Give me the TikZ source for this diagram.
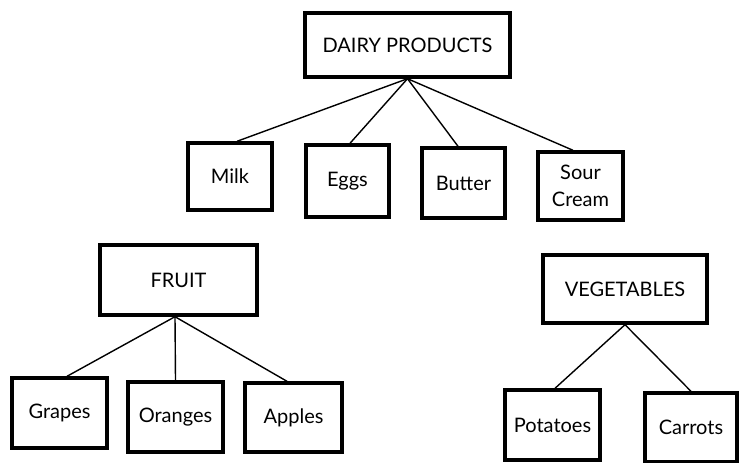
\documentclass[tikz,border=0pt]{standalone}
\usepackage{fontspec}
\setmainfont{Lato}
\begin{document}
\begin{tikzpicture}[x=1pt,y=-1pt,
  box/.style={draw=black,line width=3.4pt,fill=white,inner sep=0pt,align=center,
    font=\fontsize{20}{27}\selectfont,text=black},
  link/.style={draw=black,line width=1.4pt}]
\useasboundingbox (0,0) rectangle (739,463);
\fill[white] (0,0) rectangle (739,463);
% nodes
\node[box,minimum width=205pt,minimum height=64pt] (dairy) at (407.5,45) {DAIRY PRODUCTS};
\node[box,minimum width=84pt,minimum height=67pt] (milk) at (230,176.5) {Milk};
\node[box,minimum width=83pt,minimum height=72pt] (eggs) at (347.5,181) {Eggs};
\node[box,minimum width=83pt,minimum height=70pt] (butter) at (463.5,183) {Butter};
\node[box,minimum width=85pt,minimum height=68pt] (sour) at (580.5,186) {Sour\\Cream};
\node[box,minimum width=157pt,minimum height=70pt] (fruit) at (178.5,280) {FRUIT};
\node[box,minimum width=95pt,minimum height=70pt] (grapes) at (59.5,413) {Grapes};
\node[box,minimum width=95pt,minimum height=70pt] (oranges) at (175.5,417) {Oranges};
\node[box,minimum width=97pt,minimum height=69pt] (apples) at (293.5,417.5) {Apples};
\node[box,minimum width=164pt,minimum height=68pt] (veg) at (625,289) {VEGETABLES};
\node[box,minimum width=95pt,minimum height=70pt] (potatoes) at (552.5,425) {Potatoes};
\node[box,minimum width=92pt,minimum height=69pt] (carrots) at (691,427.5) {Carrots};
% connectors
\draw[link] (dairy.south) -- ([xshift=7pt]milk.north);
\draw[link] (dairy.south) -- ([xshift=2.5pt]eggs.north);
\draw[link] (dairy.south) -- ([xshift=-5.5pt]butter.north);
\draw[link] (dairy.south) -- ([xshift=-7.5pt]sour.north);
\draw[link] ([xshift=-3.5pt]fruit.south) -- ([xshift=7.5pt]grapes.north);
\draw[link] ([xshift=-3.5pt]fruit.south) -- (oranges.north);
\draw[link] ([xshift=-3.5pt]fruit.south) -- ([xshift=-6.5pt]apples.north);
\draw[link] (veg.south) -- ([xshift=2.5pt]potatoes.north);
\draw[link] (veg.south) -- (carrots.north);
\end{tikzpicture}
\end{document}
